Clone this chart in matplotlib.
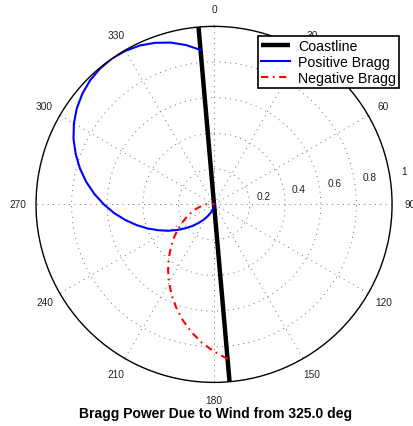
import matplotlib
matplotlib.use("Agg")
import matplotlib.pyplot as plt
import numpy as np

plt.rcParams['font.family'] = ['Liberation Sans', 'DejaVu Sans']

# Look directions (deg, clockwise from north) on the sea side of the coast.
look_deg = [175, 180, 185, 190, 195, 200, 205, 210, 215, 220, 225, 230, 235,
            240, 245, 250, 255, 260, 265, 270, 275, 280, 285, 290, 295, 300,
            305, 310, 315, 320, 325, 330, 335, 340, 345, 350, 355]

# Relative Bragg power for each look direction.
pos_bragg = [0.004, 0.008, 0.014, 0.021, 0.032, 0.045, 0.063, 0.083, 0.108,
             0.137, 0.171, 0.208, 0.250, 0.296, 0.344, 0.396, 0.450, 0.506,
             0.563, 0.619, 0.675, 0.729, 0.780, 0.827, 0.871, 0.909, 0.941,
             0.966, 0.985, 0.996, 1.000, 0.996, 0.985, 0.966, 0.941, 0.909,
             0.871]
neg_bragg = [0.871, 0.827, 0.780, 0.729, 0.675, 0.619, 0.563, 0.506, 0.450,
             0.396, 0.344, 0.296, 0.250, 0.208, 0.171, 0.137, 0.108, 0.083,
             0.063, 0.045, 0.032, 0.021, 0.014, 0.008, 0.004, 0.002, 0.001,
             0.000, 0.000, 0.000, 0.000, 0.000, 0.000, 0.000, 0.001, 0.002,
             0.004]

# Coastline drawn through the origin.
coast_deg = [355, 355, 175, 175]
coast_r = [1, 0, 0, 1]

wind_dir = 325.0
theta_ticks = list(range(0, 360, 30))
r_ticks = [0.2, 0.4, 0.6, 0.8, 1]

fig = plt.figure(figsize=(4.14, 4.27), dpi=100)
ax = fig.add_axes([0.087, 0.102, 0.86, 0.834], projection='polar')
ax.set_theta_zero_location('N')
ax.set_theta_direction(-1)
ax.set_ylim(0, 1)

ax.set_thetagrids(theta_ticks, labels=[])
ax.set_rgrids([0.2, 0.4, 0.6, 0.8], labels=[])
ax.grid(True, color='#6e6e6e', linestyle=(0, (1, 4.5)), linewidth=0.7)
ax.spines['polar'].set_color('black')
ax.spines['polar'].set_linewidth(1.0)

ax.plot(np.radians(coast_deg), coast_r, color='black', lw=3.2,
        solid_capstyle='butt', label='Coastline')
ax.plot(np.radians(look_deg), pos_bragg, color='#0000ff', lw=1.5,
        label='Positive Bragg')
ax.plot(np.radians(look_deg), neg_bragg, color='#ff0000', lw=1.5,
        linestyle=(0, (3.5, 2.2, 0.8, 2.2)), label='Negative Bragg')

for t in theta_ticks:
    ax.text(np.radians(t), 1.10, str(t), ha='center', va='center',
            fontsize=7.3, color='#222222', clip_on=False)
for r in r_ticks:
    ax.text(np.radians(80), r + 0.085, f"{r:g}", ha='center', va='center',
            fontsize=7.3, color='#222222', clip_on=False)

leg = ax.legend(loc='upper right', bbox_to_anchor=(399 / 414, 1 - 37 / 427),
                bbox_transform=fig.transFigure, fontsize=10.2, fancybox=False,
                framealpha=1, edgecolor='black', borderpad=0.2,
                labelspacing=0.14, handlelength=2.0, handletextpad=0.6,
                borderaxespad=0)
leg.get_frame().set_linewidth(1.2)

fig.text(0.52, 1 - 414 / 427, f"Bragg Power Due to Wind from {wind_dir:.1f} deg",
         ha='center', va='center', fontsize=10, fontweight='bold')

fig.savefig("out.png", dpi=100)
